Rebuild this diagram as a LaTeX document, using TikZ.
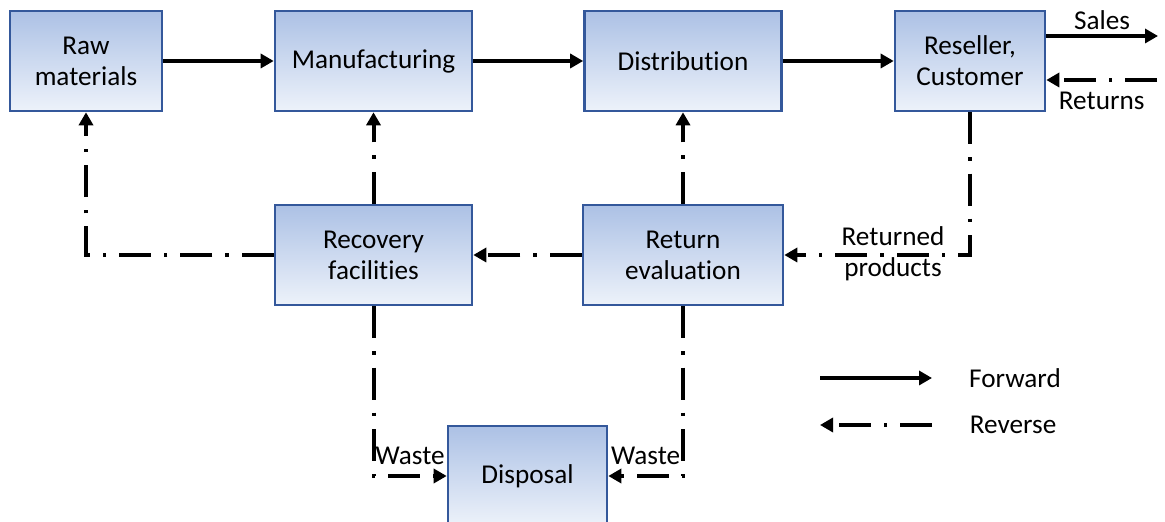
\documentclass[tikz,border=0pt]{standalone}
\usepackage{fontspec}
\setmainfont[Ligatures=NoCommon]{Carlito}
\usetikzlibrary{arrows.meta}

\definecolor{boxline}{RGB}{52,88,155}
\definecolor{boxtop}{RGB}{172,193,229}
\definecolor{boxbot}{RGB}{237,242,250}

\tikzset{
  box/.style={draw=boxline, line width=1.3pt, top color=boxtop, bottom color=boxbot,
    inner sep=0pt, minimum height=50pt, align=center},
  txt/.style={font=\fontsize{13.6}{15.5}\selectfont, align=center},
  fwd/.style={line width=2pt, -{Triangle[length=6.5pt,width=7pt]}},
  rev/.style={fwd, dash pattern=on 16pt off 6.5pt on 1.7pt off 6.5pt}
}

\begin{document}
\begin{tikzpicture}[x=0.5pt, y=-0.5pt, every node/.append style={txt}]
    \clip (0,0) rectangle (1165,522);

    % Boxes
    \node[box, minimum width=76pt]   (raw)  at (86,61)    {Raw\\materials};
    \node[box, minimum width=98.5pt] (manu) at (373.5,61) {Manufacturing};
    \node[box, minimum width=98.5pt] (dist) at (683,61)   {Distribution};
    \node[box, minimum width=75pt]   (cust) at (970,61)   {Reseller,\\Customer};
    \node[box, minimum width=98.5pt] (rec)  at (373.5,255) {Recovery\\facilities};
    \node[box, minimum width=100pt]  (eval) at (683,255)  {Return\\evaluation};
    \node[box, minimum width=79.5pt] (disp) at (527.5,476) {Disposal};

    % Forward flows
    \foreach \a/\b in {raw/manu, manu/dist, dist/cust} \draw[fwd] (\a) -- (\b);
    \coordinate (sales) at (1158,36);
    \draw[fwd] (cust.east |- sales) -- (sales) node[midway, above=-1pt] {Sales};

    % Reverse flows
    \coordinate (ret) at (1157,80);
    \draw[rev] (ret) -- (cust.east |- ret) node[midway, below=1.5pt] {Returns};
    \draw[rev] (cust.south) |- (eval.east);
    \node (retprod) at (893,254) {Returned\\products};
    \draw[rev] (eval) -- (rec);
    \draw[rev] (rec.west) -| (raw.south);
    \draw[rev] (rec) -- (manu);
    \draw[rev] (eval) -- (dist);
    \draw[rev] (rec.south) |- (disp.west) node[pos=0.75, above=1.5pt] {Waste};
    \draw[rev] (eval.south) |- (disp.east) node[pos=0.75, above=1.5pt] {Waste};

    % Legend
    \coordinate (f1) at (820,378);
    \coordinate (f2) at (932,378);
    \coordinate (r1) at (932,425);
    \coordinate (r2) at (820,425);
    \draw[fwd] (f1) -- (f2);
    \draw[rev] (r1) -- (r2);
    \node (fwdlbl) at (1015,378) {Forward};
    \node (revlbl) at (1013,425) {Reverse};
\end{tikzpicture}
\end{document}
